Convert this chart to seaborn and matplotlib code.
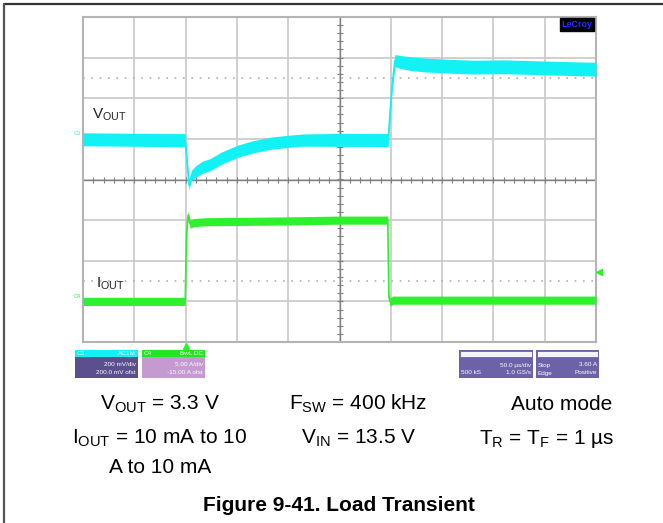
import matplotlib
matplotlib.use("Agg")
import matplotlib.pyplot as plt
import seaborn as sns
import pandas as pd
import numpy as np
from matplotlib.lines import Line2D
from matplotlib.patches import Rectangle

# scope settings (from the channel / timebase boxes)
TIME_DIV = 50.0     # us/div
VOUT_DIV = 200.0    # mV/div
VOUT_OFST = 200.0   # mV
IOUT_DIV = 5.0      # A/div
IOUT_OFST = -15.0   # A
TRIG_LEVEL = 3.60   # A

# VOUT trace (AC coupled, mV)
vout_t = [0, 40, 80, 99.5, 101.5, 103.4, 105.7, 110, 116.7, 123.5, 135, 150, 165, 182, 200,
          214, 250, 297.4, 301, 304, 310, 320, 335, 360, 380, 410, 445, 475, 500]
vout_mv = [-2, -4, -6, -6, -120, -228, -180, -160, -139, -128, -95, -62, -40, -22, -12,
           -6, -5, -6, 250, 385, 378, 370, 363, 357, 353, 355, 350, 346, 343]
vout_spread = [32, 32, 32, 32, 25, 22, 25, 28, 30, 30, 30, 30, 30, 30, 30,
               30, 32, 32, 32, 30, 32, 34, 34, 34, 34, 34, 34, 34, 34]

# IOUT trace (A)
iout_t = [0, 50, 99.6, 101.0, 102.4, 104.5, 108, 120, 160, 200, 250, 297.0, 298.2,
          299.5, 302, 350, 400, 450, 500]
iout_a = [0.0, 0.0, 0.0, 8.5, 10.6, 9.5, 9.7, 9.8, 9.85, 9.9, 10.0, 10.0, 0.5,
          -0.1, 0.15, 0.15, 0.15, 0.15, 0.15]
iout_spread = 0.5

CYAN = "#12f2f4"
GREEN = "#2ef02e"
GRID = "#c8c8c8"

W, H = 663, 523


def fx(x):
    return x / W


def fy(y):
    return 1 - y / H


sns.set_theme(style="white")
plt.rcParams["font.family"] = ["Liberation Sans", "DejaVu Sans"]
plt.rcParams["mathtext.fontset"] = "custom"
plt.rcParams["mathtext.rm"] = "Liberation Sans"
plt.rcParams["mathtext.it"] = "Liberation Sans:italic"
plt.rcParams["mathtext.bf"] = "Liberation Sans:bold"
plt.rcParams["text.color"] = "black"

fig = plt.figure(figsize=(W / 100, H / 100), dpi=100)
fig.patch.set_facecolor("white")
ax = fig.add_axes([fx(83), fy(342), (596 - 83) / W, (342 - 17) / H])

vout = pd.DataFrame({"t": vout_t, "mv": vout_mv, "sp": vout_spread})
vout["pos"] = (vout["mv"] + VOUT_OFST) / VOUT_DIV
vout["lo"] = (vout["mv"] - vout["sp"] + VOUT_OFST) / VOUT_DIV
vout["hi"] = (vout["mv"] + vout["sp"] + VOUT_OFST) / VOUT_DIV

iout = pd.DataFrame({"t": iout_t, "a": iout_a})
iout["pos"] = (iout["a"] + IOUT_OFST) / IOUT_DIV
iout["lo"] = (iout["a"] - iout_spread + IOUT_OFST) / IOUT_DIV
iout["hi"] = (iout["a"] + iout_spread + IOUT_OFST) / IOUT_DIV

# graticule
ax.set_xlim(0, 10 * TIME_DIV)
ax.set_ylim(-4, 4)
ax.set_xticks(np.arange(0, 10 * TIME_DIV + 1, TIME_DIV))
ax.set_yticks(np.arange(-4, 5, 1))
ax.grid(True, color=GRID, lw=1.2, zorder=0)
ax.tick_params(length=0, labelbottom=False, labelleft=False)
for s in ax.spines.values():
    s.set_color("#b4b4b4")
    s.set_linewidth(1.5)
ax.axhline(0, color="#808080", lw=1.0, zorder=1)
ax.axvline(5 * TIME_DIV, color="#808080", lw=1.0, zorder=1)
ax.plot(np.arange(0, 500, 10), np.zeros(50), ls="none", marker="|", ms=5,
        color="#808080", mew=0.8, zorder=1)
ax.plot(np.full(40, 250.0), np.arange(-4, 4, 0.2), ls="none", marker="_", ms=5,
        color="#808080", mew=0.8, zorder=1)
ax.axhline(2.5, color="#b0b0b0", lw=1.2, ls=(0, (1, 4)), zorder=1)
ax.axhline(-2.5, color="#b0b0b0", lw=1.2, ls=(0, (1, 4)), zorder=1)

# traces
ax.fill_between(vout["t"], vout["lo"], vout["hi"], color=CYAN, lw=0, zorder=3)
sns.lineplot(data=vout, x="t", y="pos", color=CYAN, lw=1.2, ax=ax, zorder=3,
             sort=False, estimator=None)
ax.fill_between(iout["t"], iout["lo"], iout["hi"], color=GREEN, lw=0, zorder=3)
sns.lineplot(data=iout, x="t", y="pos", color=GREEN, lw=1.2, ax=ax, zorder=3,
             sort=False, estimator=None)
ax.set_xlabel("")
ax.set_ylabel("")

# trigger markers
ax.plot([100], [-4.1], marker="^", ms=5, color=GREEN, clip_on=False, zorder=5)
ax.plot([503], [(TRIG_LEVEL + IOUT_OFST) / IOUT_DIV], marker="<", ms=5,
        color=GREEN, clip_on=False, zorder=5)

# trace labels
ax.text(0.018, 0.70, r"V$_{\mathrm{OUT}}$", transform=ax.transAxes, fontsize=11,
        ha="left", va="center", color="#222222")
ax.text(0.025, 0.18, r"I$_{\mathrm{OUT}}$", transform=ax.transAxes, fontsize=11,
        ha="left", va="center", color="#222222")
fig.text(fx(81), fy(134), "C3", fontsize=4, color=CYAN, ha="right", va="center")
fig.text(fx(81), fy(296), "C4", fontsize=4, color=GREEN, ha="right", va="center")

# LeCroy logo
fig.text(fx(577), fy(24.5), "LeCroy", fontsize=6.5, color="#2a2aff", weight="bold",
         ha="center", va="center",
         bbox=dict(facecolor="black", edgecolor="black", pad=1.2))


def box(x0, y0, x1, y1, color, ec="none"):
    fig.add_artist(Rectangle((fx(x0), fy(y1)), fx(x1) - fx(x0), fy(y0) - fy(y1),
                             transform=fig.transFigure, facecolor=color,
                             edgecolor=ec, lw=0.6))


def small(x, y, s, ha="right", color="white"):
    fig.text(fx(x), fy(y), s, fontsize=4.6, color=color, ha=ha, va="center")


# channel info boxes
box(75, 350, 138, 378, "#5b4f8e")
box(75, 350, 138, 357, CYAN)
small(77, 353.5, "C3", ha="left")
small(136, 353.5, "AC1M")
small(136, 365, "200 mV/div")
small(136, 373, "200.0 mV ofst")

box(142, 350, 205, 378, "#c49ad0")
box(142, 350, 205, 357, "#22e622")
small(144, 353.5, "C4", ha="left")
small(203, 353.5, "BwL DC")
small(203, 365, "5.00 A/div")
small(203, 373, "-15.00 A ofst")

box(459, 350, 533, 378, "#6c62a8")
box(460, 351, 532, 357, "#f4f4f8", ec="#6c62a8")
small(531, 365, "50.0 µs/div")
small(461, 373, "500 kS", ha="left")
small(531, 373, "1.0 GS/s")

box(536, 350, 599, 378, "#6c62a8")
box(537, 351, 598, 357, "#f4f4f8", ec="#6c62a8")
small(538, 365, "Stop", ha="left")
small(597, 365, "3.60 A")
small(538, 373, "Edge", ha="left")
small(597, 373, "Positive")

# conditions text
fs = 15
fig.text(fx(160), fy(410), r"V$_{\mathrm{OUT}}$ = 3.3 V", fontsize=fs, ha="center", va="baseline")
fig.text(fx(160), fy(444), r"I$_{\mathrm{OUT}}$ = 10 mA to 10", fontsize=fs, ha="center", va="baseline")
fig.text(fx(160), fy(473), "A to 10 mA", fontsize=fs, ha="center", va="baseline")
fig.text(fx(358), fy(410), r"F$_{\mathrm{SW}}$ = 400 kHz", fontsize=fs, ha="center", va="baseline")
fig.text(fx(359), fy(444), r"V$_{\mathrm{IN}}$ = 13.5 V", fontsize=fs, ha="center", va="baseline")
fig.text(fx(562), fy(410), "Auto mode", fontsize=fs, ha="center", va="baseline")
fig.text(fx(547), fy(444), "T$_{\\mathrm{R}}$ = T$_{\\mathrm{F}}$ = 1 µs", fontsize=fs,
         ha="center", va="baseline")
fig.text(fx(339), fy(511), "Figure 9-41. Load Transient", fontsize=fs, weight="bold",
         ha="center", va="baseline")

# page frame
fig.add_artist(Line2D([fx(4), 1], [fy(4), fy(4)], transform=fig.transFigure,
                      color="#333333", lw=1.6))
fig.add_artist(Line2D([fx(4), fx(4)], [0, fy(4)], transform=fig.transFigure,
                      color="#555555", lw=1.6))

fig.savefig("out.png", dpi=100)
